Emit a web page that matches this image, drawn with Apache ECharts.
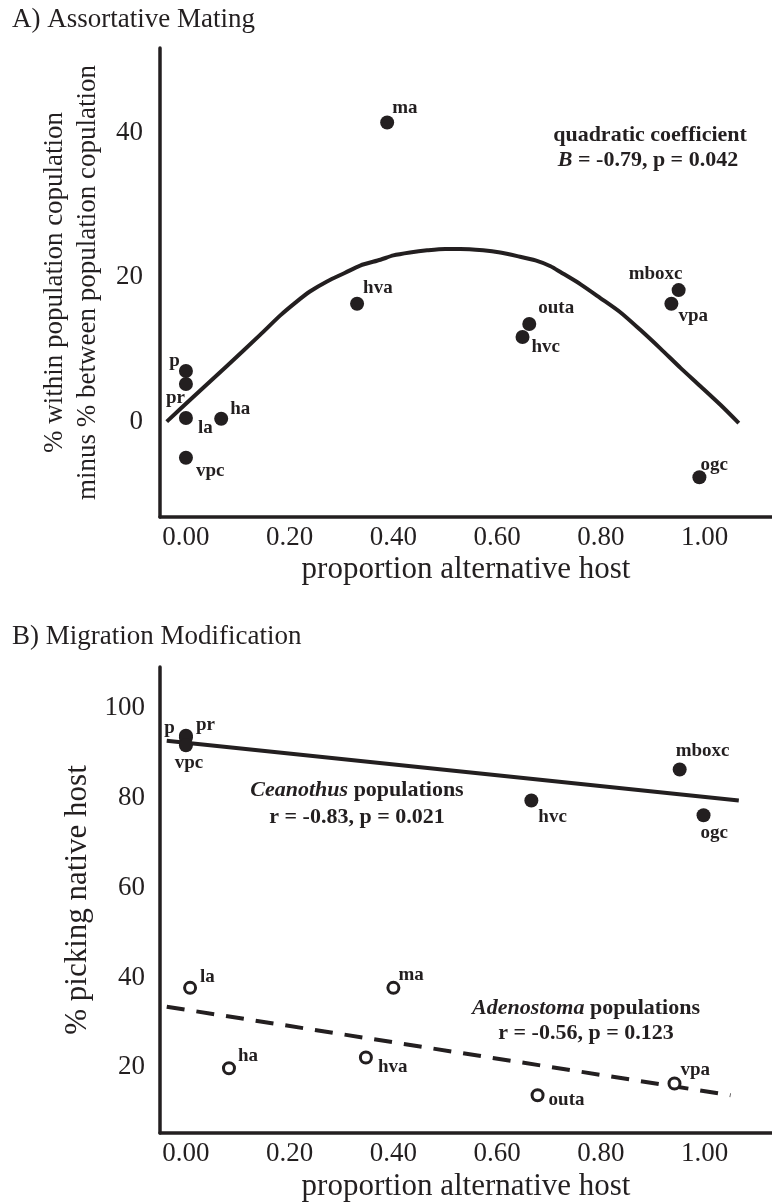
<!DOCTYPE html>
<html><head><meta charset="utf-8">
<script src="https://cdn.jsdelivr.net/npm/echarts@6/dist/echarts.min.js"></script>
<style>html,body{margin:0;padding:0;background:#fff}#c{width:772px;height:1203px}</style>
</head><body><div id="c"></div>
<script>
// ---- tick labels ----
const xTicks = [0, 0.2, 0.4, 0.6, 0.8, 1.0];
const aYTicks = [0, 20, 40];
const bYTicks = [20, 40, 60, 80, 100];

// ---- Panel A: assortative mating ----
const aNames = ['p', 'pr', 'la', 'vpc', 'ha', 'hva', 'ma', 'hvc', 'outa', 'vpa', 'mboxc', 'ogc'];
const aX = [0, 0, 0, 0, 0.068, 0.330, 0.388, 0.649, 0.662, 0.936, 0.950, 0.990];
const aY = [7.0, 5.2, 0.5, -5.0, 0.4, 16.3, 41.4, 11.7, 13.5, 16.3, 18.2, -7.7];
// quadratic fit curve
const aCurveX = [-0.037, 0.014, 0.079, 0.143, 0.182, 0.210, 0.239, 0.272, 0.307, 0.336, 0.375, 0.400, 0.432, 0.465, 0.500, 0.529, 0.573, 0.606, 0.639, 0.674, 0.703, 0.722, 0.761, 0.799, 0.838, 0.876, 0.915, 0.954, 0.992, 1.031, 1.066];
const aCurveY = [0.0, 3.4, 7.7, 12.0, 14.7, 16.4, 18.0, 19.4, 20.6, 21.6, 22.4, 23.0, 23.4, 23.7, 23.9, 23.9, 23.7, 23.4, 22.9, 22.3, 21.5, 20.7, 19.0, 17.1, 15.1, 12.7, 10.1, 7.4, 4.9, 2.3, -0.2];

// ---- Panel B: migration modification ----
const bCeanNames = ['p', 'pr', 'vpc', 'hvc', 'mboxc', 'ogc'];
const bCeanX = [0, 0, 0, 0.666, 0.952, 0.998];
const bCeanY = [93.8, 93.4, 91.7, 79.4, 86.3, 76.1];
const bAdenNames = ['la', 'ha', 'hva', 'ma', 'outa', 'vpa'];
const bAdenX = [0.008, 0.083, 0.347, 0.400, 0.678, 0.942];
const bAdenY = [37.7, 19.8, 22.2, 37.7, 13.8, 16.4];
const bCeanFitX = [-0.037, 1.066];
const bCeanFitY = [92.7, 79.4];
const bAdenFitX = [-0.037, 1.050];
const bAdenFitY = [33.5, 13.8];

// ---- styles ----
const FONT = '"Liberation Serif", "Times New Roman", serif';
const INK = '#231f20';
// label placement: [align, dx, dy]
const aPlace = {
  p: ['right', -6, -10], pr: ['right', -1, 14], la: ['left', 12, 10], vpc: ['left', 10, 13],
  ha: ['left', 9, -10], hva: ['left', 6, -16], ma: ['left', 5, -14], hvc: ['left', 9, 10],
  outa: ['left', 9, -16], vpa: ['left', 7, 12], mboxc: ['center', -23, -16], ogc: ['left', 1, -12]
};
const bCeanPlace = {
  p: ['right', -11, -8], pr: ['left', 10, -12], vpc: ['center', 3, 18],
  hvc: ['left', 7, 17], mboxc: ['left', -4, -18], ogc: ['left', -3, 18]
};
const bAdenPlace = {
  la: ['left', 10, -11], ha: ['left', 9, -12], hva: ['left', 12, 10],
  ma: ['left', 5, -13], outa: ['left', 11, 5], vpa: ['left', 6, -13]
};

function pts(names, xs, ys, place) {
  return names.map((n, i) => {
    const p = place[n];
    return {
      name: n, value: [xs[i], ys[i]],
      label: { align: p[0], offset: [p[1], p[2]] }
    };
  });
}
function line(xs, ys) { return xs.map((x, i) => [x, ys[i]]); }

const ptLabel = {
  show: true, position: 'inside', formatter: '{b}', verticalAlign: 'middle',
  fontFamily: FONT, fontWeight: 'bold', fontSize: 19, color: INK, opacity: 1
};

function xAxisCfg(gi, gap) {
  return {
    gridIndex: gi, type: 'value', min: -0.05, max: 1.13,
    name: 'proportion alternative host', nameLocation: 'middle', nameGap: gap,
    nameTextStyle: { fontFamily: FONT, fontSize: 31, color: INK },
    axisLine: { onZero: false, lineStyle: { color: INK, width: 3.5 } },
    axisTick: { show: false }, splitLine: { show: false },
    axisLabel: {
      customValues: xTicks, formatter: v => v.toFixed(2), margin: 7,
      fontFamily: FONT, fontSize: 27, color: INK
    }
  };
}

function annot(x, y, text) {
  return {
    type: 'text', x: x, y: y, z: 10,
    style: {
      text: text, fill: INK, textAlign: 'center', textVerticalAlign: 'middle',
      align: 'center', verticalAlign: 'middle',
      fontFamily: FONT, fontSize: 22, fontWeight: 'bold',
      rich: {
        b: { fontFamily: FONT, fontSize: 22, fontWeight: 'bold', fill: INK, color: INK },
        bi: { fontFamily: FONT, fontSize: 22, fontWeight: 'bold', fontStyle: 'italic', fill: INK, color: INK }
      }
    }
  };
}

const option = {
  backgroundColor: '#fff',
  animation: false,
  title: [
    { text: 'A) Assortative Mating', left: 12, top: 6, padding: 0,
      textStyle: { fontFamily: FONT, fontSize: 27, fontWeight: 'normal', color: INK } },
    { text: 'B) Migration Modification', left: 12, top: 623, padding: 0,
      textStyle: { fontFamily: FONT, fontSize: 27, fontWeight: 'normal', color: INK } }
  ],
  grid: [
    { left: 160, top: 48, width: 612, height: 469 },
    { left: 160, top: 667, width: 612, height: 468 }
  ],
  xAxis: [xAxisCfg(0, 37), xAxisCfg(1, 38)],
  yAxis: [
    {
      gridIndex: 0, type: 'value', min: -13.2, max: 51.7,
      name: '% within population copulation\nminus % between population copulation',
      nameLocation: 'middle', nameGap: 56,
      nameTextStyle: { fontFamily: FONT, fontSize: 27, color: INK, lineHeight: 33, align: 'center' },
      axisLine: { onZero: false, lineStyle: { color: INK, width: 3.5 } },
      axisTick: { show: false }, splitLine: { show: false },
      axisLabel: { customValues: aYTicks, margin: 17, fontFamily: FONT, fontSize: 27, color: INK }
    },
    {
      gridIndex: 1, type: 'value', min: 5.4, max: 109.1,
      name: '% picking native host', nameLocation: 'middle', nameGap: 47,
      nameTextStyle: { fontFamily: FONT, fontSize: 31, color: INK },
      axisLine: { onZero: false, lineStyle: { color: INK, width: 3.5 } },
      axisTick: { show: false }, splitLine: { show: false },
      axisLabel: { customValues: bYTicks, margin: 15, fontFamily: FONT, fontSize: 27, color: INK }
    }
  ],
  series: [
    {
      type: 'line', xAxisIndex: 0, yAxisIndex: 0, data: line(aCurveX, aCurveY),
      smooth: 0.25, symbol: 'none', lineStyle: { color: INK, width: 4, join: 'round' }, z: 2
    },
    {
      type: 'scatter', xAxisIndex: 0, yAxisIndex: 0, data: pts(aNames, aX, aY, aPlace),
      symbol: 'circle', symbolSize: 14, itemStyle: { color: INK, opacity: 1 }, label: ptLabel, z: 3
    },
    {
      type: 'line', xAxisIndex: 1, yAxisIndex: 1, data: line(bCeanFitX, bCeanFitY),
      symbol: 'none', lineStyle: { color: INK, width: 4 }, z: 2
    },
    {
      type: 'line', xAxisIndex: 1, yAxisIndex: 1, data: line(bAdenFitX, bAdenFitY),
      symbol: 'none', lineStyle: { color: INK, width: 4, type: [18, 12] }, z: 2
    },
    {
      type: 'scatter', xAxisIndex: 1, yAxisIndex: 1, data: pts(bCeanNames, bCeanX, bCeanY, bCeanPlace),
      symbol: 'circle', symbolSize: 14, itemStyle: { color: INK, opacity: 1 }, label: ptLabel, z: 3
    },
    {
      type: 'scatter', xAxisIndex: 1, yAxisIndex: 1, data: pts(bAdenNames, bAdenX, bAdenY, bAdenPlace),
      symbol: 'circle', symbolSize: 11,
      itemStyle: { color: '#fff', borderColor: INK, borderWidth: 3, opacity: 1 },
      label: ptLabel, z: 3
    }
  ],
  graphic: [
    annot(650, 135, '{b|quadratic coefficient}'),
    annot(648, 160, '{bi|B}{b| = -0.79, p = 0.042}'),
    annot(357, 790, '{bi|Ceanothus}{b| populations}'),
    annot(357, 817, '{b|r = -0.83, p = 0.021}'),
    annot(586, 1008, '{bi|Adenostoma}{b| populations}'),
    annot(586, 1033, '{b|r = -0.56, p = 0.123}')
  ]
};

const chart = echarts.init(document.getElementById('c'), null, { renderer: 'canvas' });
chart.setOption(option);
</script>
</body></html>
